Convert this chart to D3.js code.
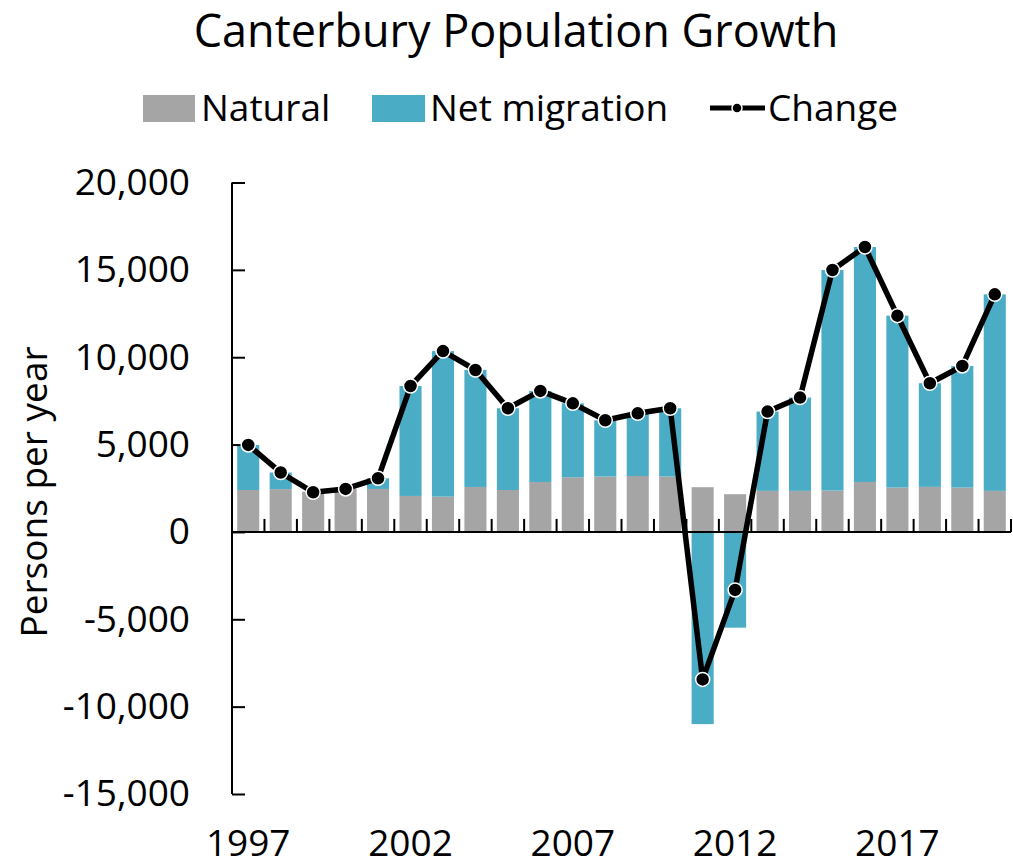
<!DOCTYPE html>
<html>
<head>
<meta charset="utf-8">
<script src="https://cdn.jsdelivr.net/npm/d3@7"></script>
<style>
  body { margin: 0; background: #fff; }
  text { font-family: "Open Sans", sans-serif; fill: #000; }
</style>
</head>
<body>
<div id="chart"></div>
<script>
var years = [1997, 1998, 1999, 2000, 2001, 2002, 2003, 2004, 2005, 2006, 2007, 2008,
             2009, 2010, 2011, 2012, 2013, 2014, 2015, 2016, 2017, 2018, 2019, 2020];
var natural = [2400, 2450, 2300, 2460, 2460, 2060, 2020, 2575, 2400, 2860, 3130, 3170,
               3200, 3170, 2560, 2160, 2350, 2350, 2370, 2860, 2540, 2580, 2540, 2350];
var migration = [2580, 950, -30, 0, 610, 6290, 8330, 6700, 4680, 5210, 4230, 3220,
                 3590, 3910, -11000, -5480, 4540, 5340, 12620, 13450, 9840, 5930, 6960, 11250];
var change = [4980, 3400, 2270, 2460, 3070, 8350, 10350, 9270, 7080, 8070, 7360, 6390,
              6790, 7080, -8440, -3320, 6890, 7690, 14990, 16310, 12380, 8510, 9500, 13600];
var yTicks = [-15000, -10000, -5000, 0, 5000, 10000, 15000, 20000];
var xLabels = [1997, 2002, 2007, 2012, 2017];

var width = 1013;
var height = 867;
var colors = {natural: '#a5a5a5', migration: '#4bacc6'};

var svg = d3.select('#chart').append('svg')
    .attr('width', width)
    .attr('height', height);

var x = d3.scaleBand()
    .domain(years)
    .range([232, 1011])
    .paddingInner(0.32)
    .paddingOuter(0.16);

var y = d3.scaleLinear()
    .domain([-15000, 20000])
    .range([794, 182.5]);

var rows = years.map(function(yr, i) {
    return {year: yr, natural: natural[i], migration: migration[i], change: change[i]};
});

var series = d3.stack()
    .keys(['natural', 'migration'])
    .offset(d3.stackOffsetDiverging)(rows);

var commas = d3.format(',');
function fmt(d) { return commas(d).replace('\u2212', '-'); }

// title
svg.append('text')
    .attr('x', 516)
    .attr('y', 47)
    .attr('text-anchor', 'middle')
    .style('font-size', '45px')
    .text('Canterbury Population Growth');

// legend
var legend = svg.append('g');
legend.append('rect').attr('x', 143).attr('y', 95).attr('width', 52).attr('height', 27)
    .attr('fill', colors.natural);
legend.append('text').attr('x', 201).attr('y', 121).style('font-size', '37px').text('Natural');
legend.append('rect').attr('x', 372).attr('y', 95).attr('width', 53).attr('height', 27)
    .attr('fill', colors.migration);
legend.append('text').attr('x', 430).attr('y', 121).style('font-size', '37px').text('Net migration');
legend.append('line').attr('x1', 710).attr('x2', 765).attr('y1', 108).attr('y2', 108)
    .attr('stroke', '#000').attr('stroke-width', 5);
legend.append('circle').attr('cx', 737).attr('cy', 108).attr('r', 5)
    .attr('fill', '#000').attr('stroke', '#fff').attr('stroke-width', 1.5);
legend.append('text').attr('x', 768).attr('y', 121).style('font-size', '37px').text('Change');

// bars
svg.append('g').selectAll('g')
    .data(series)
    .enter().append('g')
        .attr('fill', function(s) { return colors[s.key]; })
    .selectAll('rect')
    .data(function(s) { return s; })
    .enter().append('rect')
        .attr('x', function(d) { return x(d.data.year); })
        .attr('y', function(d) { return y(Math.max(d[0], d[1])); })
        .attr('width', x.bandwidth())
        .attr('height', function(d) { return Math.abs(y(d[0]) - y(d[1])); });

// y axis
var yAxis = svg.append('g')
    .attr('transform', 'translate(232,0)')
    .call(d3.axisLeft(y).tickValues(yTicks).tickSize(-13).tickPadding(42)
        .tickFormat(fmt));
yAxis.select('.domain').attr('stroke', '#000').attr('stroke-width', 2)
    .attr('d', 'M0,' + y(-15000) + 'V' + y(20000));
yAxis.selectAll('.tick line').attr('stroke', '#000').attr('stroke-width', 2);
yAxis.selectAll('.tick text').style('font-size', '37px').style('font-family', '"Open Sans", sans-serif');

// x axis at zero
var step = x.step();
var zeroY = y(0);
svg.append('line')
    .attr('x1', 232).attr('x2', 1011).attr('y1', zeroY).attr('y2', zeroY)
    .attr('stroke', '#000').attr('stroke-width', 2);
svg.append('g').selectAll('line')
    .data(years)
    .enter().append('line')
        .attr('x1', function(d) { return x(d) + x.bandwidth() / 2 + step / 2; })
        .attr('x2', function(d) { return x(d) + x.bandwidth() / 2 + step / 2; })
        .attr('y1', zeroY)
        .attr('y2', zeroY - 13)
        .attr('stroke', '#000').attr('stroke-width', 2);

svg.append('g').selectAll('text')
    .data(xLabels)
    .enter().append('text')
        .attr('x', function(d) { return x(d) + x.bandwidth() / 2; })
        .attr('y', 856)
        .attr('text-anchor', 'middle')
        .style('font-size', '37px')
        .text(function(d) { return d; });

// y label
svg.append('text')
    .attr('transform', 'translate(47,' + 492 + ') rotate(-90)')
    .attr('text-anchor', 'middle')
    .style('font-size', '37px')
    .text('Persons per year');

// change line
var line = d3.line()
    .x(function(d) { return x(d.year) + x.bandwidth() / 2; })
    .y(function(d) { return y(d.change); });

svg.append('path')
    .datum(rows)
    .attr('d', line)
    .attr('fill', 'none')
    .attr('stroke', '#000')
    .attr('stroke-width', 5.5)
    .attr('stroke-linejoin', 'round');

svg.append('g').selectAll('circle')
    .data(rows)
    .enter().append('circle')
        .attr('cx', function(d) { return x(d.year) + x.bandwidth() / 2; })
        .attr('cy', function(d) { return y(d.change); })
        .attr('r', 7)
        .attr('fill', '#000')
        .attr('stroke', '#fff')
        .attr('stroke-width', 1.5);
</script>
</body>
</html>
